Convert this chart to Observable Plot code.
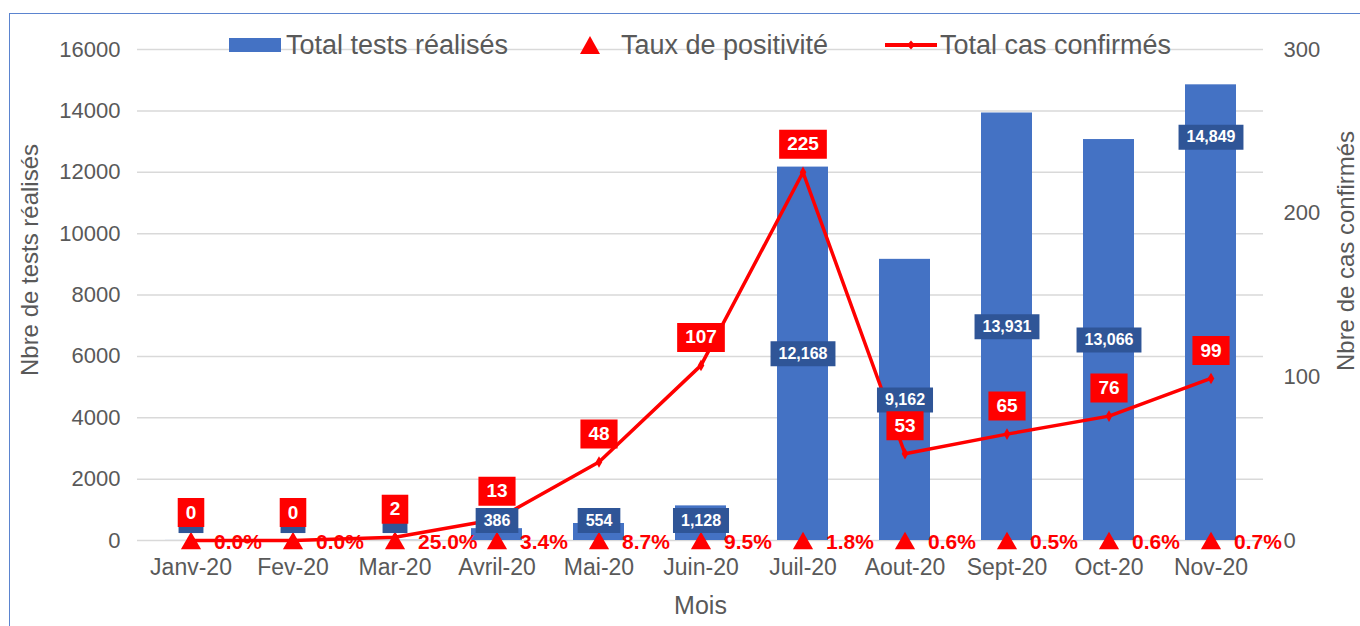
<!DOCTYPE html>
<html>
<head>
<meta charset="utf-8">
<script src="https://cdn.jsdelivr.net/npm/d3@7"></script>
<script src="https://cdn.jsdelivr.net/npm/@observablehq/plot@0.6"></script>
<style>
  body { margin: 0; background: #fff; font-family: "Liberation Sans", Arial, sans-serif; }
  #wrap { position: relative; width: 1360px; height: 626px; overflow: hidden; }
  #frame { position: absolute; left: 9px; top: 13px; right: -5px; bottom: -5px;
           border-left: 1.5px solid #5B84CF; border-top: 1.5px solid #5B84CF; }
  #chart { position: absolute; left: 0; top: 0; }
  .leg { position: absolute; font-size: 27px; color: #595959; line-height: 1; white-space: nowrap; }
</style>
</head>
<body>
<div id="wrap">
  <div id="frame"></div>
  <div id="chart"></div>
  <div id="legend"></div>
</div>
<script>
// ---- Data ----
const months = ["Janv-20", "Fev-20", "Mar-20", "Avril-20", "Mai-20", "Juin-20",
                "Juil-20", "Aout-20", "Sept-20", "Oct-20", "Nov-20"];
const tests  = [2, 3, 8, 386, 554, 1128, 12168, 9162, 13931, 13066, 14849];
const cases  = [0, 0, 2, 13, 48, 107, 225, 53, 65, 76, 99];
const rates  = [0.0, 0.0, 25.0, 3.4, 8.7, 9.5, 1.8, 0.6, 0.5, 0.6, 0.7];
const leftTicks  = [0, 2000, 4000, 6000, 8000, 10000, 12000, 14000, 16000];
const rightTicks = [0, 100, 200, 300];
const legendLabels = ["Total tests réalisés", "Taux de positivité", "Total cas confirmés"];

const Y_MAX = 16000, Y2_MAX = 300;
const k = Y_MAX / Y2_MAX; // right-axis -> left-axis units

const data = months.map((m, i) => ({ month: m, tests: tests[i], cases: cases[i], rate: rates[i] }));

const BLUE = "#4472C4", DARKBLUE = "#2F5597", RED = "#FF0000", GREY = "#595959";
const FONT = '"Liberation Sans", Arial, sans-serif';

// rectangular label-box symbol: width comes from the r channel (identity), fixed height
const box = h => ({ draw(ctx, size) { const w = Math.sqrt(size / Math.PI); ctx.rect(-w / 2, -h / 2, w, h); } });
const textW = (s, fs, pad) => [...s].reduce((a, c) => a + (/[0-9]/.test(c) ? 0.556 : 0.278), 0) * fs + pad;
const fmt = d3.format(",");
const barLabelY = d => d.month === "Nov-20" ? d.tests * 0.885 : Math.max(d.tests / 2, 650);
// in the reference, the tiny-bar labels are hidden under the red case labels
const visibleBarText = data.filter(d => d.tests >= 100);

const chart = Plot.plot({
  width: 1360, height: 626,
  marginLeft: 137, marginRight: 97, marginTop: 49, marginBottom: 86,
  style: { fontFamily: FONT, color: GREY, background: "transparent", overflow: "visible" },
  x: { domain: months, paddingInner: 0.5, paddingOuter: 0.25 },
  y: { domain: [0, Y_MAX] },
  r: { type: "identity" },
  marks: [
    Plot.gridY(leftTicks, { stroke: "#D9D9D9", strokeOpacity: 1, strokeWidth: 1.5 }),
    Plot.barY(data, { x: "month", y: "tests", fill: BLUE }),
    Plot.axisX({ tickSize: 0, tickPadding: 18, fontSize: 23, label: null }),
    Plot.axisY(leftTicks, { anchor: "left", tickSize: 0, tickPadding: 17, fontSize: 22,
      tickFormat: d3.format("d"), label: null }),
    Plot.axisY(rightTicks.map(t => t * k), { anchor: "right", tickSize: 0, tickPadding: 20, fontSize: 22,
      tickFormat: t => Math.round(t / k), label: null }),
    Plot.text(["Mois"], { frameAnchor: "bottom", dy: 65, fontSize: 25, fill: GREY, lineAnchor: "middle" }),
    Plot.text(["Nbre de tests réalisés"], { frameAnchor: "left", rotate: -90, dx: -107, dy: -35,
      fontSize: 24, fill: GREY, textAnchor: "middle", lineAnchor: "middle" }),
    Plot.text(["Nbre de cas confirmés"], { frameAnchor: "right", rotate: -90, dx: 83, dy: -44,
      fontSize: 24, fill: GREY, textAnchor: "middle", lineAnchor: "middle" }),
    // confirmed cases line (right axis)
    Plot.lineY(data, { x: "month", y: d => d.cases * k, stroke: RED, strokeWidth: 3.5 }),
    Plot.dot(data, { x: "month", y: d => d.cases * k, symbol: "diamond", r: 3.5, fill: RED }),
    // positivity rate triangles and labels
    Plot.dot(data, { x: "month", y: 0, symbol: "triangle", r: 7.5, fill: RED, dy: 3 }),
    Plot.text(data, { x: "month", y: 0, text: d => d.rate.toFixed(1) + "%", dx: 23, dy: 2,
      textAnchor: "start", lineAnchor: "middle", fill: RED, fontWeight: "bold", fontSize: 21 }),
    // bar data labels
    Plot.dot(data, { x: "month", y: barLabelY, symbol: box(25),
      r: d => textW(fmt(d.tests), 16, 16), fill: DARKBLUE }),
    Plot.text(visibleBarText, { x: "month", y: barLabelY, text: d => fmt(d.tests), fill: "white",
      fontWeight: "bold", fontSize: 16, lineAnchor: "middle" }),
    // cases data labels
    Plot.dot(data, { x: "month", y: d => d.cases * k, dy: -28, symbol: box(29),
      r: d => textW(String(d.cases), 19, 16), fill: RED }),
    Plot.text(data, { x: "month", y: d => d.cases * k, dy: -28, text: d => String(d.cases), fill: "white",
      fontWeight: "bold", fontSize: 19, lineAnchor: "middle" })
  ]
});
document.getElementById("chart").append(chart);

// ---- Legend (overlaid at the top, as in the reference) ----
const legend = document.getElementById("legend");
legend.innerHTML = `
  <div style="position:absolute;left:229px;top:38px;width:52px;height:14px;background:${BLUE}"></div>
  <div class="leg" style="left:286px;top:32px">${legendLabels[0]}</div>
  <svg style="position:absolute;left:580px;top:36px" width="20" height="18"><polygon points="10,0 20,18 0,18" fill="${RED}"/></svg>
  <div class="leg" style="left:621px;top:32px">${legendLabels[1]}</div>
  <svg style="position:absolute;left:884px;top:39px" width="54" height="12">
    <line x1="1" y1="6" x2="53" y2="6" stroke="${RED}" stroke-width="4"/>
    <polygon points="27,1.5 31,6 27,10.5 23,6" fill="${RED}"/>
  </svg>
  <div class="leg" style="left:940px;top:32px">${legendLabels[2]}</div>
`;
</script>
</body>
</html>
